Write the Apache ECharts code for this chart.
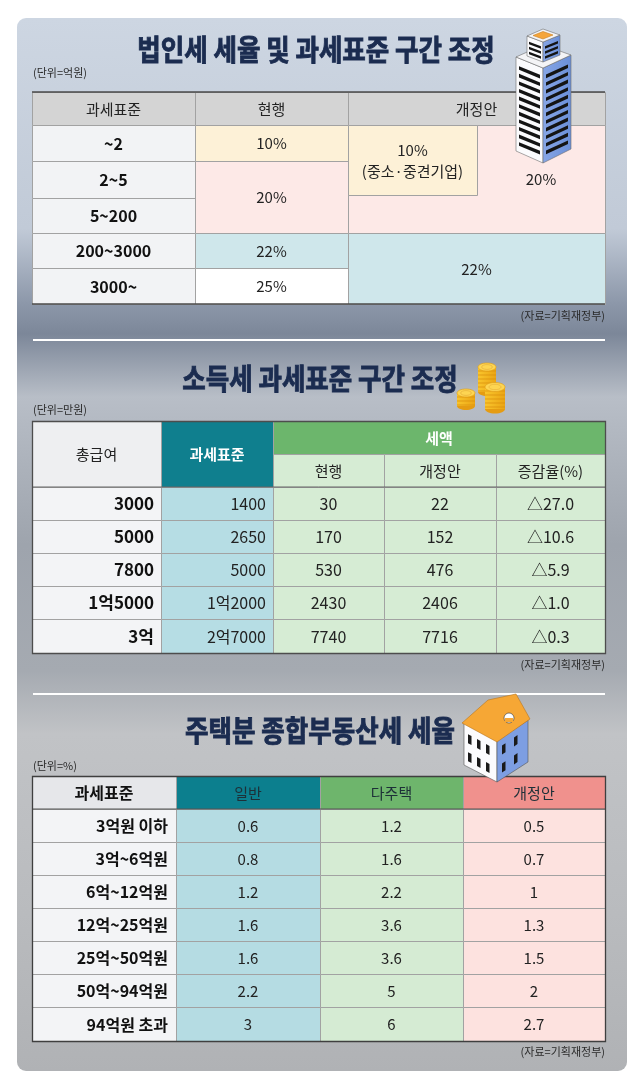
<!DOCTYPE html>
<html><head><meta charset="utf-8">
<script src="https://cdn.jsdelivr.net/npm/echarts@6/dist/echarts.min.js"></script>
<style>html,body{margin:0;padding:0;background:#fff}#c{width:640px;height:1091px}</style>
</head><body><div id="c"></div>
<script>
// ---------------- DATA ----------------
// Table 1: 법인세
const corpHeaders = ['과세표준', '현행', '개정안'];
const corpBrackets = ['~2', '2~5', '5~200', '200~3000', '3000~'];
const corpCurrentRates = ['10%', '20%', '22%', '25%'];
const corpCurrentSpans = [1, 2, 1, 1];
const corpProposedRates = ['20%', '22%'];
const corpProposedSpans = [3, 2];
const corpSmeRate = '10%';
const corpSmeNote = '(중소·중견기업)';
const corpSmeSpan = 2;

// Table 2: 소득세
const incomeHeaders = ['총급여', '과세표준', '세액'];
const incomeSubHeaders = ['현행', '개정안', '증감율(%)'];
const incomeGross = ['3000', '5000', '7800', '1억5000', '3억'];
const incomeBase = ['1400', '2650', '5000', '1억2000', '2억7000'];
const incomeTaxCurrent = [30, 170, 530, 2430, 7740];
const incomeTaxProposed = [22, 152, 476, 2406, 7716];
const incomeChange = ['△27.0', '△10.6', '△5.9', '△1.0', '△0.3'];

// Table 3: 종합부동산세
const propHeaders = ['과세표준', '일반', '다주택', '개정안'];
const propBrackets = ['3억원 이하', '3억~6억원', '6억~12억원', '12억~25억원', '25억~50억원', '50억~94억원', '94억원 초과'];
const propGeneral = [0.6, 0.8, 1.2, 1.6, 1.6, 2.2, 3];
const propMulti = [1.2, 1.6, 2.2, 3.6, 3.6, 5, 6];
const propProposed = [0.5, 0.7, 1, 1.3, 1.5, 2, 2.7];

// Texts
const titles = ['법인세 세율 및 과세표준 구간 조정', '소득세 과세표준 구간 조정', '주택분 종합부동산세 세율'];
const unitNotes = ['(단위=억원)', '(단위=만원)', '(단위=%)'];
const sourceNote = '(자료=기획재정부)';

// ---------------- LAYOUT / STYLE ----------------
const FONT = "'Noto Sans CJK KR','Noto Sans',sans-serif";
const colW = [[163, 153, 129, 128], [129, 112, 111, 112, 109], [144, 144, 143, 142]];
const rowH = [[33, 36, 37, 35, 35, 36], [33, 33, 33, 33, 33, 33, 34], [33, 33, 33, 33, 33, 33, 33, 34]];
const gridPos = [{left: 32, top: 92}, {left: 32, top: 421}, {left: 32, top: 776}];
const sum = a => a.reduce((s, v) => s + v, 0);
const edges = a => a.reduce((acc, v) => { acc.push(acc[acc.length - 1] + v); return acc; }, [0]);

function cell(c0, c1, r0, r1, text, fill, opt) { return Object.assign({c0, c1, r0, r1, text, fill}, opt || {}); }

// Table 1 cells
const t1 = [];
const t1HeaderSpans = [[0, 1], [1, 2], [2, 4]];
const t1CurFills = ['#fdf1d7', '#fde9e7', '#cfe7eb', '#ffffff'];
const t1PropFills = ['#fde9e7', '#cfe7eb'];
corpHeaders.forEach((h, i) => t1.push(cell(t1HeaderSpans[i][0], t1HeaderSpans[i][1], 0, 1, h, '#d4d4d4', {size: 15})));
corpBrackets.forEach((b, i) => t1.push(cell(0, 1, i + 1, i + 2, b, '#f2f3f5', {bold: true, size: 16, color: '#111'})));
(function () {
  let r = 1;
  corpCurrentRates.forEach((v, i) => { t1.push(cell(1, 2, r, r + corpCurrentSpans[i], v, t1CurFills[i], {size: 15})); r += corpCurrentSpans[i]; });
  r = 1;
  corpProposedRates.forEach((v, i) => {
    const sp = corpProposedSpans[i];
    if (i === 0) { t1.push(cell(2, 4, r, r + sp, '', t1PropFills[i])); t1.push(cell(3, 4, r, r + sp, v, null, {size: 15})); }
    else t1.push(cell(2, 4, r, r + sp, v, t1PropFills[i], {size: 15}));
    r += sp;
  });
})();
t1.push(cell(2, 3, 1, 1 + corpSmeSpan, corpSmeRate + '\n' + corpSmeNote, '#fdf1d7', {size: 15, lh: 21, inset: 3}));
t1.push({kind: 'line', c0: 0, c1: 4, r0: 0, r1: 0, stroke: '#4a4a4a', lw: 1.5});
t1.push({kind: 'line', c0: 0, c1: 4, r0: 6, r1: 6, stroke: '#4a4a4a', lw: 1.5});

// Table 2 cells
const t2 = [];
t2.push(cell(0, 1, 0, 2, incomeHeaders[0], '#eeeff1', {size: 15}));
t2.push(cell(1, 2, 0, 2, incomeHeaders[1], '#0f7f8e', {size: 15, bold: true, color: '#ffffff'}));
t2.push(cell(2, 5, 0, 1, incomeHeaders[2], '#6cb66c', {size: 15, bold: true, color: '#ffffff'}));
incomeSubHeaders.forEach((h, i) => t2.push(cell(2 + i, 3 + i, 1, 2, h, '#d6ecd4', {size: 15})));
incomeGross.forEach((g, i) => {
  const r = 2 + i;
  t2.push(cell(0, 1, r, r + 1, g, '#f3f4f6', {bold: true, size: 17, align: 'right', pad: 7, color: '#111'}));
  t2.push(cell(1, 2, r, r + 1, incomeBase[i], '#b6dde4', {size: 16, align: 'right', pad: 7}));
  t2.push(cell(2, 3, r, r + 1, String(incomeTaxCurrent[i]), '#d6ecd4', {size: 16}));
  t2.push(cell(3, 4, r, r + 1, String(incomeTaxProposed[i]), '#d6ecd4', {size: 16}));
  t2.push(cell(4, 5, r, r + 1, incomeChange[i], '#d6ecd4', {size: 16}));
});
t2.push({kind: 'line', c0: 0, c1: 5, r0: 2, r1: 2, stroke: '#666', lw: 1});
t2.push({kind: 'frame', c0: 0, c1: 5, r0: 0, r1: 7, stroke: '#4d4d4d', lw: 1.3});

// Table 3 cells
const t3 = [];
const t3HeadFills = ['#e6e7ea', '#0c7f8e', '#6eb56c', '#f0918d'];
const t3BodyFills = ['#f3f4f6', '#b5dce3', '#d5ebd3', '#fde2df'];
propHeaders.forEach((h, i) => t3.push(cell(i, i + 1, 0, 1, h, t3HeadFills[i], i === 0 ? {size: 16, bold: true, color: '#111'} : {size: 15, color: '#1d3038'})));
propBrackets.forEach((b, i) => {
  const r = 1 + i;
  t3.push(cell(0, 1, r, r + 1, b, t3BodyFills[0], {bold: true, size: 16, align: 'right', pad: 8, color: '#111'}));
  t3.push(cell(1, 2, r, r + 1, String(propGeneral[i]), t3BodyFills[1], {size: 15}));
  t3.push(cell(2, 3, r, r + 1, String(propMulti[i]), t3BodyFills[2], {size: 15}));
  t3.push(cell(3, 4, r, r + 1, String(propProposed[i]), t3BodyFills[3], {size: 15}));
});
t3.push({kind: 'line', c0: 0, c1: 4, r0: 1, r1: 1, stroke: '#555', lw: 1});
t3.push({kind: 'frame', c0: 0, c1: 4, r0: 0, r1: 8, stroke: '#3f3f3f', lw: 1.3});

const tables = [t1, t2, t3];

function tableSeries(idx) {
  const cells = tables[idx];
  const cE = edges(colW[idx]), rE = edges(rowH[idx]);
  return {
    type: 'custom', xAxisIndex: idx, yAxisIndex: idx, clip: false, silent: true, animation: false,
    data: cells.map(c => [cE[c.c0], cE[c.c1], rE[c.r0], rE[c.r1]]),
    encode: {x: [0, 1], y: [2, 3]},
    renderItem: function (params, api) {
      const c = cells[params.dataIndex];
      const a = api.coord([api.value(0), api.value(2)]);
      const b = api.coord([api.value(1), api.value(3)]);
      const x0 = Math.round(a[0]), y0 = Math.round(a[1]), x1 = Math.round(b[0]), y1 = Math.round(b[1]);
      const ch = [];
      if (c.kind === 'line') {
        ch.push({type: 'line', shape: {x1: x0, y1: y0, x2: x1, y2: y0}, style: {stroke: c.stroke, lineWidth: c.lw}});
        return {type: 'group', children: ch};
      }
      if (c.kind === 'frame') {
        ch.push({type: 'rect', shape: {x: x0 + 0.5, y: y0 + 0.5, width: x1 - x0, height: y1 - y0}, style: {fill: 'none', stroke: c.stroke, lineWidth: c.lw}});
        return {type: 'group', children: ch};
      }
      const bottom = y1 - (c.inset || 0);
      if (c.fill) ch.push({type: 'rect', shape: {x: x0 + 0.5, y: y0 + 0.5, width: x1 - x0, height: bottom - y0}, style: {fill: c.fill, stroke: '#a2a2a2', lineWidth: 1}});
      if (c.text) {
        const align = c.align || 'center';
        const tx = align === 'right' ? x1 - (c.pad || 6) : (x0 + x1) / 2;
        ch.push({type: 'text', style: {
          text: c.text, x: tx, y: (y0 + bottom) / 2 + 0.5, align: align, verticalAlign: 'middle',
          fontSize: c.size || 15, fontWeight: c.bold ? 'bold' : 'normal', fontFamily: FONT,
          fill: c.color || '#222', lineHeight: c.lh || undefined
        }});
      }
      return {type: 'group', children: ch};
    }
  };
}

// ---------------- DECORATION ----------------
function poly(pts, fill, stroke, z) { return {type: 'polygon', shape: {points: pts}, style: {fill: fill, stroke: stroke || null, lineWidth: 0.6}, z: z || 100}; }

function buildingIcon() {
  const els = [];
  const blue = new echarts.graphic.LinearGradient(0, 0, 1, 0, [{offset: 0, color: '#87a6e6'}, {offset: 1, color: '#6a8fd8'}]);
  els.push(poly([[516, 57], [543, 68], [543, 163], [516, 151]], '#fbfbfd', '#6d6d6d'));
  els.push(poly([[543, 68], [571, 55], [571, 149], [543, 163]], blue, '#6d6d6d'));
  els.push(poly([[516, 57], [543, 45], [571, 55], [543, 68]], '#f4f4f6', '#6d6d6d'));
  for (let i = 0; i < 11; i++) {
    const t = 8 + i * 7.6;
    els.push(poly([[519, 58.2 + t], [540, 66.8 + t], [540, 70.4 + t], [519, 61.8 + t]], '#141414'));
    els.push(poly([[546, 66.6 + t], [568, 56.4 + t], [568, 60 + t], [546, 70.2 + t]], '#141414'));
  }
  // upper tier
  els.push(poly([[527, 36], [543, 42], [543, 62], [527, 56]], '#fbfbfd', '#6d6d6d'));
  els.push(poly([[543, 42], [560, 35], [560, 55], [543, 62]], blue, '#6d6d6d'));
  els.push(poly([[527, 36], [543, 29], [560, 35], [543, 42]], '#f4f4f6', '#6d6d6d'));
  for (let i = 0; i < 3; i++) {
    const t = 5 + i * 5;
    els.push(poly([[529, 36.8 + t], [541, 41.2 + t], [541, 43.7 + t], [529, 39.3 + t]], '#141414'));
    els.push(poly([[545, 41.2 + t], [558, 36 + t], [558, 38.5 + t], [545, 43.7 + t]], '#141414'));
  }
  els.push(poly([[533, 35.5], [543, 31.5], [553, 35], [543, 39]], '#f5a53a', '#c97f20'));
  return els;
}

function coinStack(cx, top, bottom, rx, ry) {
  const els = [];
  els.push({type: 'ellipse', shape: {cx: cx, cy: bottom, rx: rx, ry: ry}, style: {fill: '#e59c12'}, z: 100});
  els.push({type: 'rect', shape: {x: cx - rx, y: top, width: rx * 2, height: bottom - top}, style: {fill: new echarts.graphic.LinearGradient(0, 0, 1, 0, [{offset: 0, color: '#f9c52c'}, {offset: 1, color: '#eba514'}])}, z: 100});
  for (let y = top + 4; y < bottom; y += 4) {
    els.push({type: 'line', shape: {x1: cx - rx, y1: y, x2: cx + rx, y2: y}, style: {stroke: '#d98e0b', lineWidth: 0.7}, z: 100});
  }
  els.push({type: 'ellipse', shape: {cx: cx, cy: top, rx: rx, ry: ry}, style: {fill: '#fdd552', stroke: '#e3a01a', lineWidth: 0.7}, z: 100});
  els.push({type: 'ellipse', shape: {cx: cx, cy: top, rx: rx * 0.6, ry: ry * 0.6}, style: {fill: 'none', stroke: '#eab53c', lineWidth: 0.8}, z: 100});
  return els;
}

function houseIcon() {
  const els = [];
  els.push(poly([[464, 723], [497, 741], [497, 782], [464, 765]], '#fbfbfd', '#555'));
  els.push(poly([[497, 741], [528, 720], [528, 762], [497, 782]], '#7d9ee2', '#555'));
  els.push(poly([[462, 723], [488, 700], [516, 694], [530, 719], [497, 742]], '#f6a735', '#b9761e'));
  els.push({type: 'circle', shape: {cx: 509, cy: 718, r: 5}, style: {fill: '#fff', stroke: '#333', lineWidth: 0.6}, z: 101});
  els.push({type: 'rect', shape: {x: 505, y: 718, width: 8, height: 4}, style: {fill: '#f6a735'}, z: 101});
  [468, 477, 486].forEach(x => {
    [9, 27].forEach(off => {
      const y = 723 + (x - 464) * 0.545 + off;
      els.push(poly([[x, y], [x + 3.5, y + 1.9], [x + 3.5, y + 10.9], [x, y + 9]], '#1a1a1a'));
    });
  });
  [502, 514].forEach(x => {
    [8, 26].forEach(off => {
      const y = 741 - (x - 497) * 0.677 + off;
      els.push(poly([[x, y], [x + 3.5, y - 2.4], [x + 3.5, y + 6.6], [x, y + 9]], '#1a1a1a'));
    });
  });
  return els;
}

const panelFill = new echarts.graphic.LinearGradient(0, 0, 0, 1, [
  {offset: 0, color: '#cdd6e2'}, {offset: 0.2, color: '#c1cad7'}, {offset: 0.27, color: '#8d98aa'},
  {offset: 0.3, color: '#7c8799'}, {offset: 0.36, color: '#b8bec7'}, {offset: 0.5, color: '#9ea4ad'},
  {offset: 0.62, color: '#a5aab1'}, {offset: 0.68, color: '#c1c3c6'}, {offset: 0.85, color: '#b9bbbe'},
  {offset: 1, color: '#b0b2b5'}
]);

const graphics = [
  {type: 'rect', shape: {x: 17, y: 18, width: 610, height: 1053, r: 9}, style: {fill: panelFill}, z: -10},
  {type: 'line', shape: {x1: 33, y1: 340, x2: 605, y2: 340}, style: {stroke: '#ffffff', lineWidth: 2}, z: 1},
  {type: 'line', shape: {x1: 33, y1: 694, x2: 605, y2: 694}, style: {stroke: '#ffffff', lineWidth: 2}, z: 1}
];
const titlePos = [[316, 50], [320, 379], [320, 731]];
titles.forEach((t, i) => graphics.push({
  type: 'text', x: titlePos[i][0], y: titlePos[i][1], scaleX: 0.88, z: 50,
  style: {text: t, align: 'center', verticalAlign: 'middle', fontSize: 29, fontWeight: 'bold', fontFamily: FONT,
    fill: '#1b2c50', stroke: '#1b2c50', lineWidth: 0.9}
}));
const unitY = [73, 410, 766];
unitNotes.forEach((t, i) => graphics.push({
  type: 'text', x: 33, y: unitY[i], z: 50,
  style: {text: t, align: 'left', verticalAlign: 'middle', fontSize: 11, fontFamily: FONT, fill: '#2a2a2a'}
}));
[316, 665, 1052].forEach(y => graphics.push({
  type: 'text', x: 605, y: y, z: 50,
  style: {text: sourceNote, align: 'right', verticalAlign: 'middle', fontSize: 11, fontFamily: FONT, fill: '#2a2a2a'}
}));
buildingIcon().forEach(e => graphics.push(e));
coinStack(487, 367, 392, 9, 4).forEach(e => graphics.push(e));
coinStack(466, 393, 406, 9, 4).forEach(e => graphics.push(e));
coinStack(495, 387, 409, 10, 4.5).forEach(e => graphics.push(e));
houseIcon().forEach(e => graphics.push(e));

// ---------------- CHART ----------------
const chart = echarts.init(document.getElementById('c'), null, {renderer: 'canvas'});
chart.setOption({
  animation: false,
  backgroundColor: '#ffffff',
  grid: [0, 1, 2].map(i => ({left: gridPos[i].left, top: gridPos[i].top, width: sum(colW[i]), height: sum(rowH[i]), containLabel: false})),
  xAxis: [0, 1, 2].map(i => ({type: 'value', gridIndex: i, min: 0, max: sum(colW[i]), show: false})),
  yAxis: [0, 1, 2].map(i => ({type: 'value', gridIndex: i, min: 0, max: sum(rowH[i]), inverse: true, show: false})),
  series: [0, 1, 2].map(tableSeries),
  graphic: {elements: graphics}
});
</script></body></html>
